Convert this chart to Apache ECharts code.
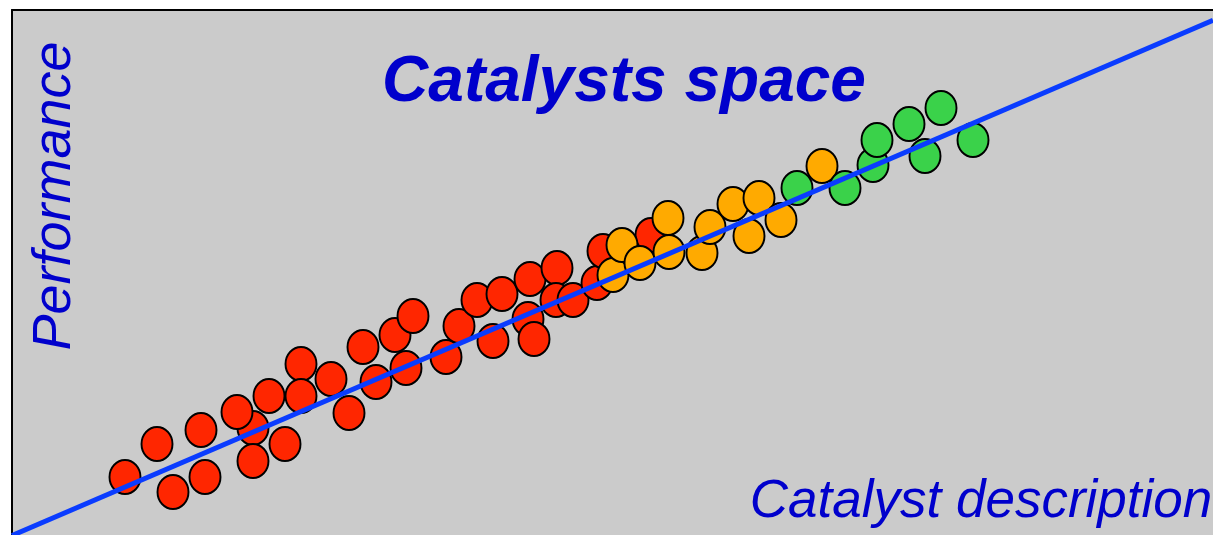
<!DOCTYPE html>
<html>
<head>
<meta charset="utf-8">
<script src="https://cdn.jsdelivr.net/npm/echarts@6/dist/echarts.min.js"></script>
<style>
html,body{margin:0;padding:0;background:#fff;}
#chart{width:1213px;height:535px;}
</style>
</head>
<body>
<div id="chart"></div>
<script>
// Values (x: catalyst description, y: performance), arbitrary units
var redPoints = [
  [113,60],[145,93],[161,45],[189,107],[193,60],[241,109],[225,125],[241,76],[273,93],
  [257,141],[289,173],[289,141],[319,158],[337,124],[351,190],[364,155],[383,202],
  [394,169],[401,221],[434,180],[447,211],[465,237],[481,196],[490,243],[518,258],
  [516,218],[522,198],[545,269],[544,237],[561,237],[585,254],[591,286],[639,302]
];
var orangePoints = [
  [601,262],[610,292],[628,274],[656,319],[657,285],[690,284],[698,310],[721,333],
  [737,301],[747,339],[769,317],[810,371]
];
var greenPoints = [
  [785,349],[833,349],[861,372],[865,397],[897,413],[913,381],[929,429],[961,397]
];
var trendLine = [[0,1.5],[1201,516.7]];

var chart = echarts.init(document.getElementById('chart'), null, {renderer:'canvas'});
var ellipse = 'path://M50,0A50,50,0,1,1,50,100A50,50,0,1,1,50,0Z';
function dots(data, color){
  return {
    type:'scatter', data:data, symbol:ellipse, symbolSize:[31,34],
    itemStyle:{color:color, borderColor:'#000', borderWidth:2, opacity:1},
    emphasis:{disabled:true}, animation:false, z:2
  };
}
var frameAxis = {
  type:'value', show:true,
  axisLine:{show:true, onZero:false, lineStyle:{color:'#000', width:2}},
  axisTick:{show:false}, axisLabel:{show:false}, splitLine:{show:false}
};
chart.setOption({
  animation:false,
  grid:{left:12, top:10, right:0, bottom:0, show:true, backgroundColor:'#cbcbcb', borderWidth:0, containLabel:false},
  xAxis:Object.assign({}, frameAxis, {min:0, max:1201, position:'top'}),
  yAxis:Object.assign({}, frameAxis, {min:2, max:527, position:'left'}),
  series:[
    dots(redPoints,'#ff2600'),
    dots(orangePoints,'#ffaa00'),
    dots(greenPoints,'#3ad24a'),
    {type:'line', data:trendLine, symbol:'none', lineStyle:{color:'#0a3cff', width:5}, z:3, silent:true, animation:false}
  ],
  graphic:[
    {type:'text', x:624, y:83, z:10, style:{text:'Catalysts space', font:'italic bold 64px "Liberation Sans", Arial, sans-serif', fill:'#0000cc', align:'center', verticalAlign:'middle'}},
    {type:'text', x:981, y:502, z:10, style:{text:'Catalyst description', font:'italic 53px "Liberation Sans", Arial, sans-serif', fill:'#0000cc', align:'center', verticalAlign:'middle'}},
    {type:'text', x:55, y:196, rotation:Math.PI/2, z:10, style:{text:'Performance', font:'italic 54px "Liberation Sans", Arial, sans-serif', fill:'#0000cc', align:'center', verticalAlign:'middle'}}
  ]
});
</script>
</body>
</html>
